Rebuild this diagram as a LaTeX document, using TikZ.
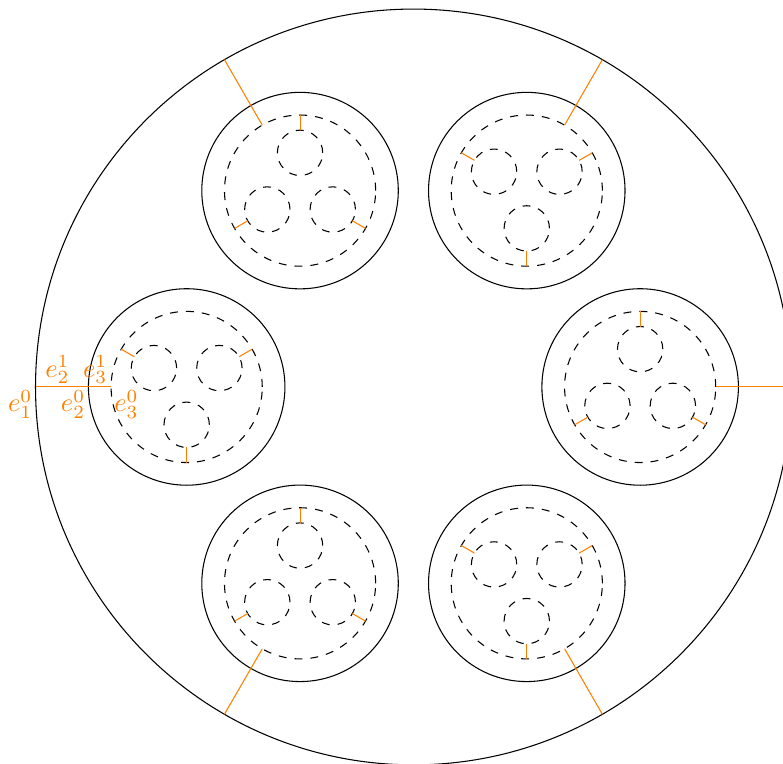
\documentclass[tikz,border=0pt]{standalone}
\begin{document}
\begin{tikzpicture}[link/.style={orange}, dashring/.style={dashed}, lbl/.style={orange,inner sep=1pt}]
\useasboundingbox (-5.47,-4.98) rectangle (4.89,5.12);
\draw (0,0) circle (5);

% six cells, each with three holes
\foreach \a in {0,60,...,300}{
  \draw (\a:3) circle (1.3);
  \draw[dashring] (\a:3) circle (1);
  \draw[link] (\a:5) -- (\a:4);
  \foreach \b in {90,210,330}{
    \draw[dashring] ([shift={(\a:3)}]\a+\b:0.5) circle (0.3);
    \draw[link] ([shift={(\a:3)}]\a+\b:0.8) -- ([shift={(\a:3)}]\a+\b:1);
  }
}

\coordinate (p1) at (180:5);
\coordinate (p2) at (180:4.3);
\coordinate (p3) at (180:4);
\node[lbl,below left] (v1) at (p1) {$e_1^0$};
\node[lbl,below left] (v2) at (p2) {$e_2^0$};
\node[lbl,below right] (v3) at (p3) {$e_3^0$};
\node[lbl,above] (s2) at (-4.71,0) {$e_2^1$};
\node[lbl,above] (s3) at (-4.21,0) {$e_3^1$};
\end{tikzpicture}
\end{document}
